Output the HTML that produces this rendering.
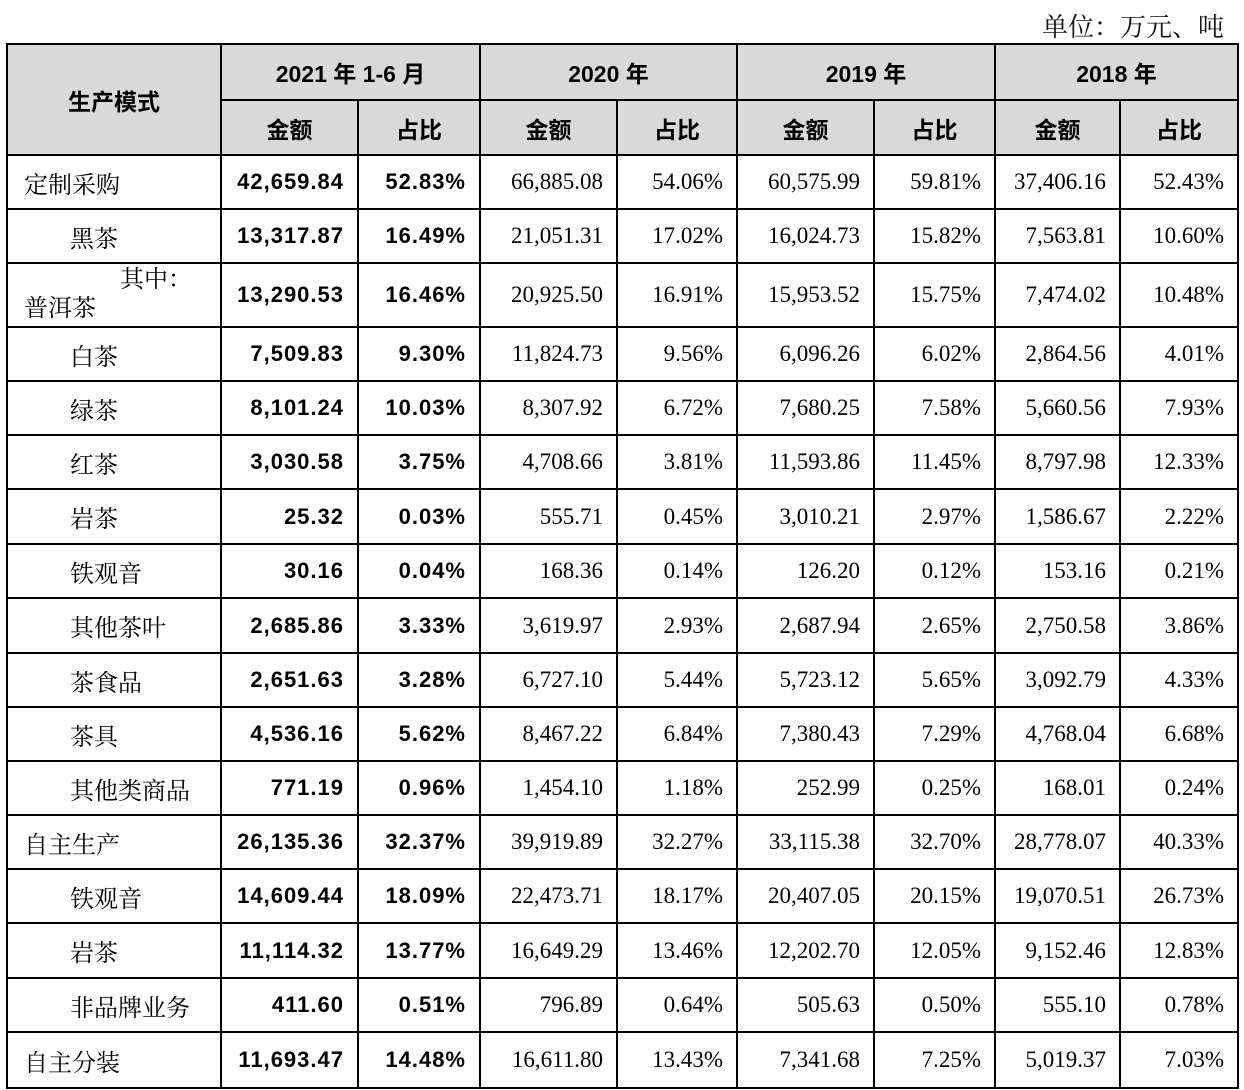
<!DOCTYPE html>
<html><head><meta charset="utf-8"><style>
body{margin:0;width:1244px;height:1090px;background:#fff;overflow:hidden;position:relative;font-family:"Liberation Serif","Noto Serif CJK SC",serif}
#unit{position:absolute;right:20px;top:7px;font-size:26px;color:#111}
table{position:absolute;left:6px;top:43px;border-collapse:collapse;table-layout:fixed}
td{border:2px solid #000;padding:0;font-size:23px;color:#000;white-space:nowrap}
thead td{background:#d9d9d9;font-family:"Liberation Sans","Noto Sans CJK SC",sans-serif;font-weight:bold;text-align:center;font-size:23px}
td.n{text-align:right;padding-right:13px}
td.b{font-family:"Liberation Sans","Noto Sans CJK SC",sans-serif;font-weight:bold;letter-spacing:1px;font-size:22px}
td.l{padding-left:16px;font-size:24px;font-family:"Liberation Serif","Noto Serif CJK SC",serif}
td.s{padding-left:62px;font-size:24px;font-family:"Liberation Serif","Noto Serif CJK SC",serif}
</style></head><body>
<div id="unit">单位：万元、吨</div>
<table>
<colgroup><col style="width:214px"><col style="width:137px"><col style="width:122px"><col style="width:137px"><col style="width:120px"><col style="width:137px"><col style="width:121px"><col style="width:125px"><col style="width:118px"></colgroup>
<thead>
<tr style="height:56px"><td rowspan="2">生产模式</td><td colspan="2">2021 年 1-6 月</td><td colspan="2">2020 年</td><td colspan="2">2019 年</td><td colspan="2">2018 年</td></tr>
<tr style="height:55px"><td>金额</td><td>占比</td><td>金额</td><td>占比</td><td>金额</td><td>占比</td><td>金额</td><td>占比</td></tr>
</thead>
<tbody id="tb"></tbody>
</table>
<script>
const rows=[
["l","定制采购","42,659.84","52.83%","66,885.08","54.06%","60,575.99","59.81%","37,406.16","52.43%"],
["s","黑茶","13,317.87","16.49%","21,051.31","17.02%","16,024.73","15.82%","7,563.81","10.60%"],
["p","普洱茶","13,290.53","16.46%","20,925.50","16.91%","15,953.52","15.75%","7,474.02","10.48%"],
["s","白茶","7,509.83","9.30%","11,824.73","9.56%","6,096.26","6.02%","2,864.56","4.01%"],
["s","绿茶","8,101.24","10.03%","8,307.92","6.72%","7,680.25","7.58%","5,660.56","7.93%"],
["s","红茶","3,030.58","3.75%","4,708.66","3.81%","11,593.86","11.45%","8,797.98","12.33%"],
["s","岩茶","25.32","0.03%","555.71","0.45%","3,010.21","2.97%","1,586.67","2.22%"],
["s","铁观音","30.16","0.04%","168.36","0.14%","126.20","0.12%","153.16","0.21%"],
["s","其他茶叶","2,685.86","3.33%","3,619.97","2.93%","2,687.94","2.65%","2,750.58","3.86%"],
["s","茶食品","2,651.63","3.28%","6,727.10","5.44%","5,723.12","5.65%","3,092.79","4.33%"],
["s","茶具","4,536.16","5.62%","8,467.22","6.84%","7,380.43","7.29%","4,768.04","6.68%"],
["s","其他类商品","771.19","0.96%","1,454.10","1.18%","252.99","0.25%","168.01","0.24%"],
["l","自主生产","26,135.36","32.37%","39,919.89","32.27%","33,115.38","32.70%","28,778.07","40.33%"],
["s","铁观音","14,609.44","18.09%","22,473.71","18.17%","20,407.05","20.15%","19,070.51","26.73%"],
["s","岩茶","11,114.32","13.77%","16,649.29","13.46%","12,202.70","12.05%","9,152.46","12.83%"],
["s","非品牌业务","411.60","0.51%","796.89","0.64%","505.63","0.50%","555.10","0.78%"],
["l","自主分装","11,693.47","14.48%","16,611.80","13.43%","7,341.68","7.25%","5,019.37","7.03%"]
];
const heights=[54,54,64,54,54,54,55,54,55,54,54,54,54,54,55,54,56];
const tb=document.getElementById('tb');
rows.forEach((r,k)=>{
const tr=document.createElement('tr');


tr.style.height=heights[k]+'px';
const c0=document.createElement('td');


if(r[0]==='p'){c0.className='l';c0.innerHTML='<div style="padding-left:96px;line-height:29px">其中：</div><div style="line-height:29px">普洱茶</div>';}
else{c0.className=r[0];c0.textContent=r[1];}
tr.appendChild(c0);
for(let i=2;i<10;i++){const td=document.createElement('td');


td.className='n'+(i<4?' b':'');td.textContent=r[i];tr.appendChild(td);}
tb.appendChild(tr);
});
</script>
</body></html>
